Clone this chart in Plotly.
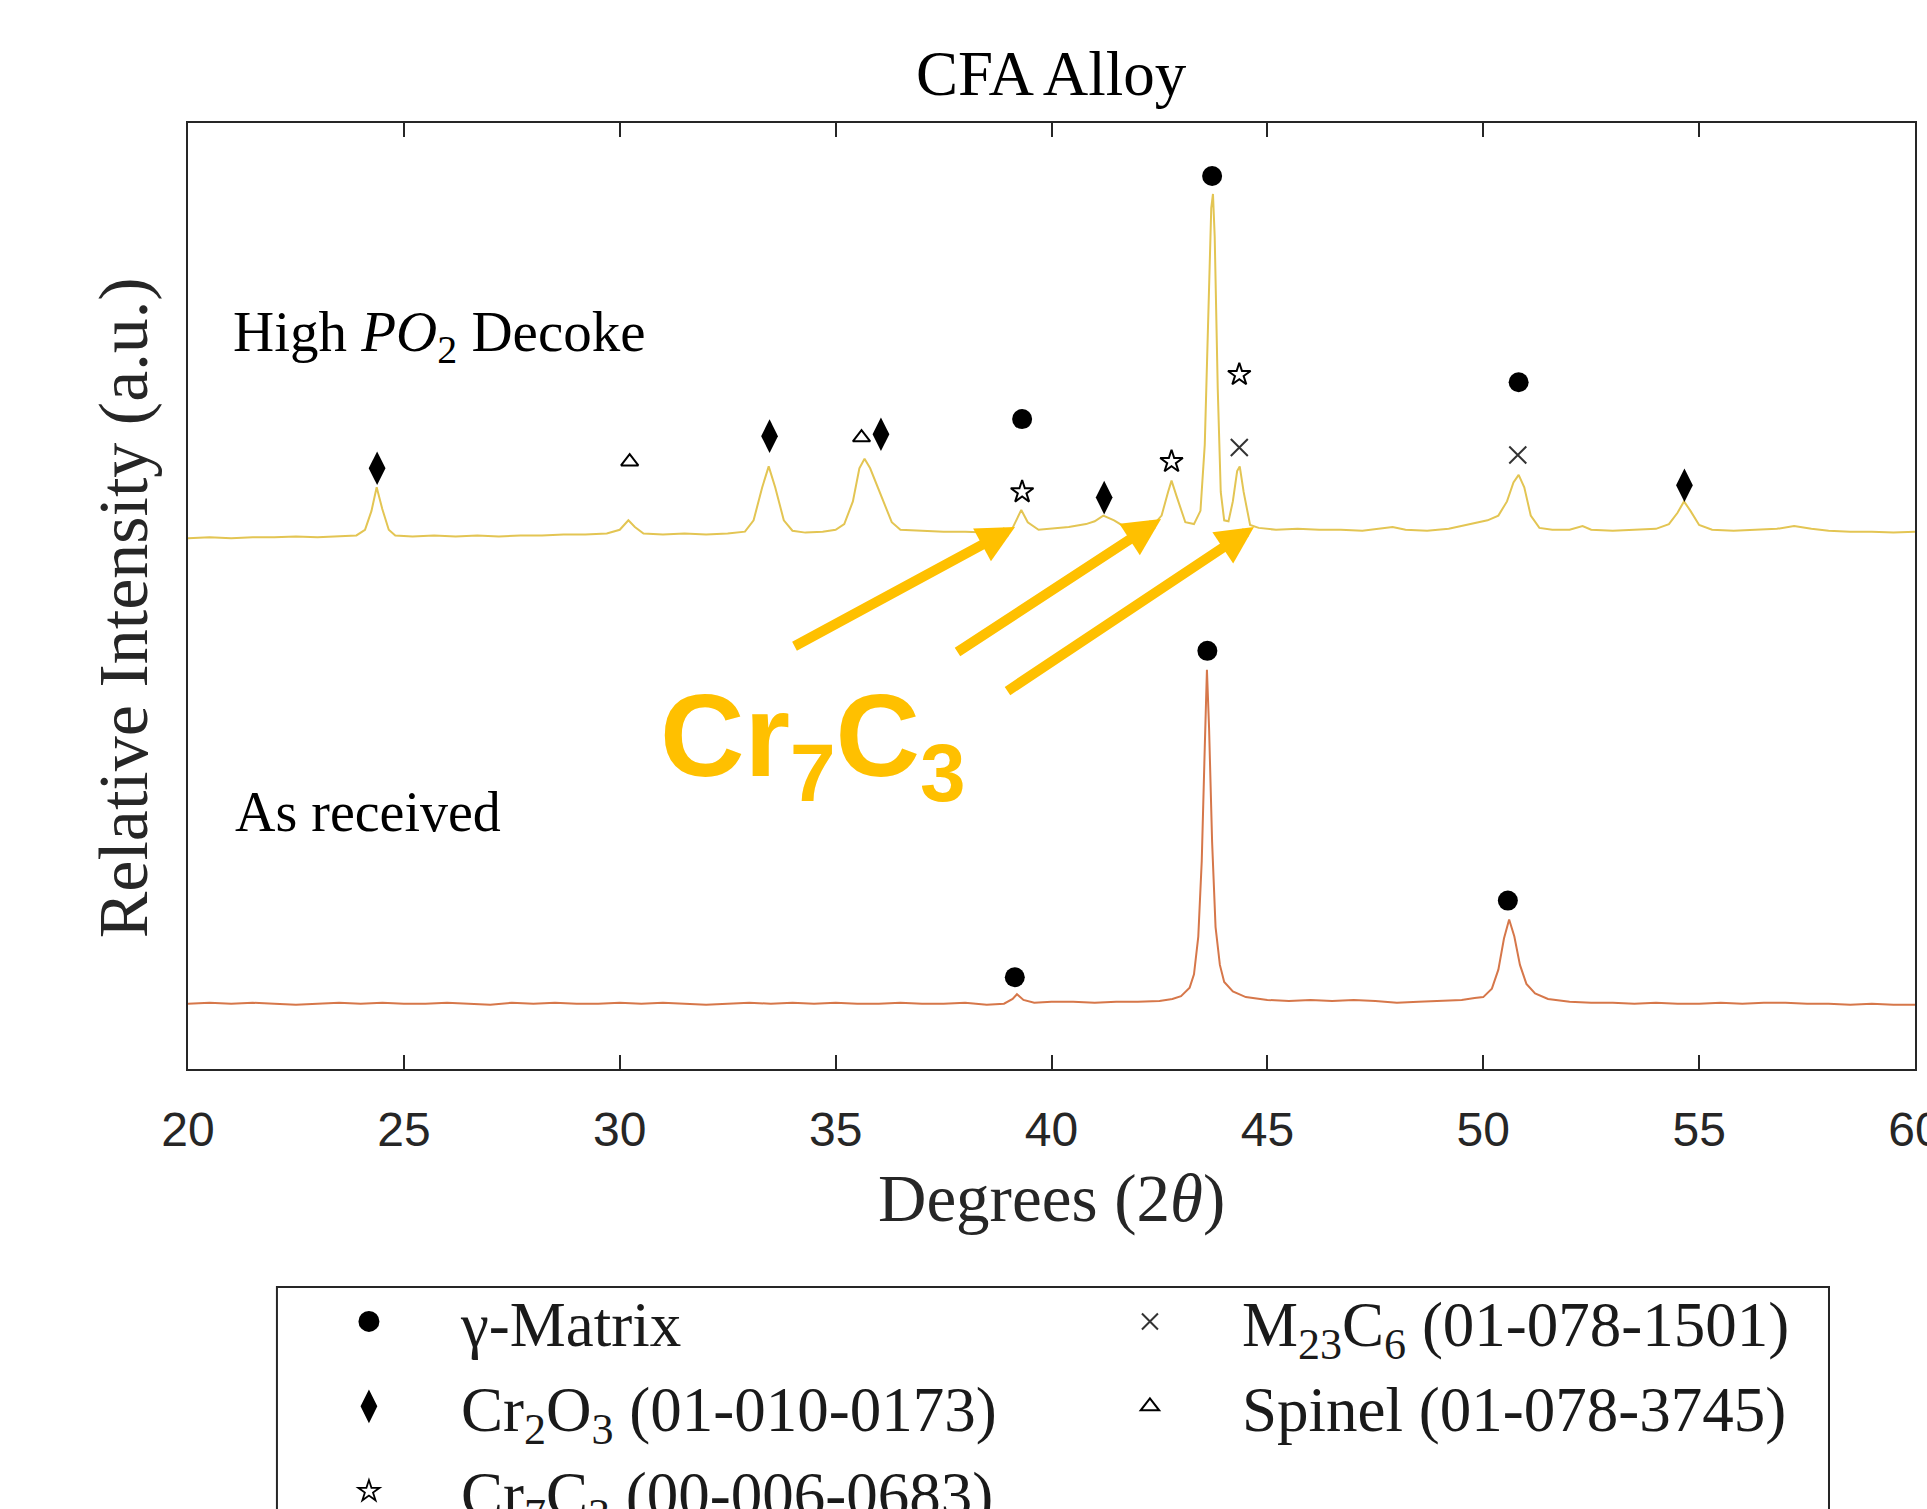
import plotly.graph_objects as go

# ---------------- data ----------------
# High PO2 decoke pattern: 2theta (deg) and plotted relative intensity (offset included)
decoke_2theta = [20.0, 20.5, 21.0, 21.5, 22.0, 22.5, 23.0, 23.5, 23.9, 24.1, 24.25, 24.37, 24.5, 24.65, 24.8,
                 25.2, 25.7, 26.2, 26.7, 27.2, 27.7, 28.2, 28.7, 29.2, 29.7, 30.0, 30.2, 30.35, 30.55,
                 31.0, 31.5, 32.0, 32.5, 32.9, 33.1, 33.3, 33.45, 33.6, 33.8, 34.0, 34.3, 34.7,
                 35.0, 35.2, 35.4, 35.55, 35.67, 35.8, 35.95, 36.1, 36.3, 36.5, 37.0, 37.5, 38.0, 38.5,
                 38.9, 39.1, 39.3, 39.45, 39.7, 40.0, 40.4, 40.8, 41.0, 41.2, 41.45, 41.7, 42.0, 42.3,
                 42.55, 42.7, 42.78, 42.9, 43.1, 43.3, 43.45, 43.55, 43.63, 43.7, 43.74, 43.78, 43.85,
                 43.92, 44.0, 44.1, 44.2, 44.3, 44.36, 44.45, 44.6, 44.8, 45.2, 45.7, 46.2, 46.7, 47.2,
                 47.6, 47.9, 48.2, 48.7, 49.2, 49.5, 49.8, 50.1, 50.35, 50.55, 50.7, 50.82, 50.95, 51.1,
                 51.3, 51.6, 52.0, 52.3, 52.5, 53.0, 53.5, 54.0, 54.3, 54.5, 54.65, 54.8, 55.0, 55.3,
                 55.8, 56.3, 56.8, 57.2, 57.6, 58.0, 58.5, 59.0, 59.5, 60.0]
decoke_int = [56.1, 56.2, 56.1, 56.2, 56.2, 56.3, 56.2, 56.3, 56.4, 57.0, 59.0, 61.5, 59.2, 57.0, 56.4,
              56.3, 56.4, 56.3, 56.4, 56.3, 56.4, 56.4, 56.5, 56.5, 56.6, 57.0, 58.0, 57.3, 56.6,
              56.5, 56.6, 56.5, 56.6, 56.8, 58.0, 61.5, 63.7, 61.5, 58.0, 56.9, 56.7, 56.8,
              57.0, 57.6, 60.0, 63.5, 64.5, 63.5, 61.8, 60.0, 57.8, 57.0, 56.9, 56.8, 56.8, 56.7,
              56.7, 57.2, 59.1, 57.8, 57.0, 57.1, 57.3, 57.6, 57.9, 58.5, 58.0, 57.3, 57.0, 57.2,
              58.5, 61.0, 62.2, 60.5, 57.8, 57.6, 59.0, 66.0, 80.0, 91.0, 92.5, 88.0, 72.0,
              61.0, 58.0, 57.9, 60.0, 63.2, 63.7, 61.0, 57.5, 57.2, 57.0, 57.1, 57.0, 57.0, 56.9,
              57.1, 57.3, 57.0, 56.9, 57.1, 57.4, 57.7, 58.0, 58.5, 60.0, 62.0, 62.8, 61.5, 58.5,
              57.2, 57.0, 57.0, 57.4, 57.0, 56.9, 57.0, 57.1, 57.6, 58.8, 60.0, 59.0, 57.5, 57.0,
              56.9, 57.0, 57.1, 57.4, 57.1, 56.9, 56.8, 56.8, 56.7, 56.8]

# As-received pattern
asrec_2theta = [20.0, 20.5, 21.0, 21.5, 22.0, 22.5, 23.0, 23.5, 24.0, 24.5, 25.0, 25.5, 26.0, 26.5, 27.0,
                27.5, 28.0, 28.5, 29.0, 29.5, 30.0, 30.5, 31.0, 31.5, 32.0, 32.5, 33.0, 33.5, 34.0, 34.5,
                35.0, 35.5, 36.0, 36.5, 37.0, 37.5, 38.0, 38.5, 38.9, 39.1, 39.2, 39.35, 39.6, 40.0,
                40.5, 41.0, 41.5, 42.0, 42.5, 42.8, 43.0, 43.2, 43.3, 43.4, 43.48, 43.55, 43.6, 43.65,
                43.72, 43.8, 43.9, 44.0, 44.2, 44.5, 45.0, 45.5, 46.0, 46.5, 47.0, 47.5, 48.0, 48.5,
                49.0, 49.5, 49.8, 50.0, 50.2, 50.35, 50.48, 50.6, 50.72, 50.85, 51.0, 51.2, 51.5, 52.0,
                52.5, 53.0, 53.5, 54.0, 54.5, 55.0, 55.5, 56.0, 56.5, 57.0, 57.5, 58.0, 58.5, 59.0,
                59.5, 60.0]
asrec_int = [6.9, 7.0, 6.9, 7.0, 6.9, 6.8, 6.9, 7.0, 6.9, 7.0, 6.9, 6.9, 7.0, 6.9, 6.8,
             7.0, 6.9, 7.0, 6.9, 6.9, 7.0, 6.9, 7.0, 6.9, 6.8, 6.9, 7.0, 6.9, 7.0, 6.9,
             7.0, 6.9, 6.9, 7.0, 6.9, 6.9, 7.0, 6.8, 6.9, 7.4, 7.9, 7.3, 7.0, 7.1,
             7.1, 7.0, 7.1, 7.1, 7.2, 7.4, 7.7, 8.6, 10.0, 14.0, 22.0, 34.0, 42.2, 36.0,
             24.0, 15.0, 11.0, 9.2, 8.2, 7.6, 7.3, 7.2, 7.3, 7.2, 7.3, 7.2, 7.0, 7.1,
             7.2, 7.3, 7.5, 7.6, 8.5, 10.5, 13.8, 15.8, 14.0, 11.0, 9.0, 8.0, 7.4, 7.1,
             7.0, 7.0, 6.9, 7.0, 6.9, 6.9, 7.0, 6.9, 7.0, 7.0, 6.9, 6.9, 6.8, 6.9,
             6.8, 6.8]

# Phase identification markers (2theta, label height)
gamma_x = [43.72, 39.32, 50.82, 43.61, 39.15, 50.57]
gamma_y = [94.4, 68.7, 72.6, 44.2, 9.7, 17.8]
m23c6_x = [44.35, 50.80]
m23c6_y = [65.7, 64.9]
cr2o3_x = [24.38, 33.47, 36.05, 41.22, 54.66]
cr2o3_y = [63.5, 66.9, 67.1, 60.4, 61.7]
spinel_x = [30.23, 35.60]
spinel_y = [64.2, 66.75]
cr7c3_x = [39.32, 42.78, 44.35]
cr7c3_y = [61.0, 64.2, 73.4]

x_ticks = [20, 25, 30, 35, 40, 45, 50, 55, 60]

SERIF = "Liberation Serif"
SANS = "Liberation Sans"
GOLD = "#FFC000"

phases = [
    # name, x, y, plot marker, legend marker
    ("γ-Matrix", gamma_x, gamma_y,
     dict(symbol="circle", size=20, color="black"),
     dict(symbol="circle", size=16, color="black", line=dict(width=5, color="black"))),
    ("M<sub>23</sub>C<sub>6</sub> (01-078-1501)", m23c6_x, m23c6_y,
     dict(symbol="x-thin-open", size=17, color="#333333", line=dict(width=2, color="#333333")),
     dict(symbol="x-thin-open", size=16, color="#333333", line=dict(width=2, color="#333333"))),
    ("Cr<sub>2</sub>O<sub>3</sub> (01-010-0173)", cr2o3_x, cr2o3_y,
     dict(symbol="diamond-tall", size=24, color="black"),
     dict(symbol="diamond-tall", size=16, color="black", line=dict(width=5, color="black"))),
    ("Spinel (01-078-3745)", spinel_x, spinel_y,
     dict(symbol="triangle-up-open", size=15, color="black", line=dict(width=2, color="black")),
     dict(symbol="triangle-up-open", size=16, color="black", line=dict(width=2, color="black"))),
    ("Cr<sub>7</sub>C<sub>3</sub> (00-006-0683)", cr7c3_x, cr7c3_y,
     dict(symbol="star-open", size=17, color="black", line=dict(width=2, color="black")),
     dict(symbol="star-open", size=16, color="black", line=dict(width=1.8, color="black"))),
]

fig = go.Figure()
fig.add_trace(go.Scatter(x=decoke_2theta, y=decoke_int, mode="lines",
                         line=dict(color="#E3C553", width=2), showlegend=False, hoverinfo="skip"))
fig.add_trace(go.Scatter(x=asrec_2theta, y=asrec_int, mode="lines",
                         line=dict(color="#D6774A", width=2), showlegend=False, hoverinfo="skip"))

for name, px, py, mk, lmk in phases:
    fig.add_trace(go.Scatter(x=px, y=py, mode="markers", name=name, marker=mk,
                             showlegend=False, legendgroup=name))
    # legend entry (same phase, slightly heavier symbol as in the original key)
    fig.add_trace(go.Scatter(x=[None], y=[None], mode="markers", name=name, marker=lmk,
                             showlegend=True, legendgroup=name))

annotations = [
    dict(text="CFA Alloy", xref="paper", yref="paper", x=0.5, y=1.0518, xanchor="center",
         yanchor="middle", showarrow=False, font=dict(family=SERIF, size=63, color="black")),
    dict(text="Degrees (2<i>θ</i>)", xref="paper", yref="paper", x=0.5, y=-0.1364,
         xanchor="center", yanchor="middle", showarrow=False,
         font=dict(family=SERIF, size=67, color="#262626")),
    dict(text="Relative Intensity (a.u.)", xref="paper", yref="paper", x=-0.0376, y=0.487,
         xanchor="center", yanchor="middle", textangle=-90, showarrow=False,
         font=dict(family=SERIF, size=70, color="#262626")),
    dict(text="High <i>PO</i><sub>2</sub> Decoke", xref="paper", yref="paper", x=0.0249, y=0.775,
         xanchor="left", yanchor="middle", showarrow=False,
         font=dict(family=SERIF, size=57, color="black")),
    dict(text="As received", xref="paper", yref="paper", x=0.026, y=0.2717,
         xanchor="left", yanchor="middle", showarrow=False,
         font=dict(family=SERIF, size=56, color="black")),
    dict(text="<b>Cr<sub>7</sub>C<sub>3</sub></b>", xref="paper", yref="paper", x=0.272, y=0.344,
         xanchor="left", yanchor="middle", showarrow=False,
         font=dict(family=SANS, size=117, color=GOLD)),
]
# Cr7C3 arrows: tip in data coordinates, tail offset in pixels
arrows = [(39.155, 57.29, -222, 120), (42.536, 58.14, -205, 134), (44.69, 57.29, -248, 165)]
for (tx, ty, axp, ayp) in arrows:
    annotations.append(dict(text="", x=tx, y=ty, xref="x", yref="y", ax=axp, ay=ayp,
                            showarrow=True, arrowhead=2, arrowsize=0.75, arrowwidth=10,
                            arrowcolor=GOLD))

# legend frame (runs past the bottom edge, as in the original figure)
shapes = [dict(type="rect", xref="paper", yref="paper", x0=0.0515, x1=0.9502,
               y0=-0.2304, y1=-0.62, line=dict(color="#262626", width=2), fillcolor="rgba(0,0,0,0)")]

fig.update_layout(
    width=1927, height=1509,
    margin=dict(l=188, r=12, t=123, b=440, autoexpand=False),
    paper_bgcolor="white", plot_bgcolor="white",
    annotations=annotations, shapes=shapes,
    xaxis=dict(range=[20, 60], tickvals=x_ticks, ticks="inside", ticklen=14, tickwidth=1.5,
               tickcolor="#262626", showline=True, linecolor="#262626", linewidth=1.5,
               mirror="ticks", showgrid=False, zeroline=False, ticklabelstandoff=18,
               ticklabeloverflow="allow",
               tickfont=dict(family=SANS, size=48, color="#262626")),
    yaxis=dict(range=[0, 100], showticklabels=False, ticks="", showline=True,
               linecolor="#262626", linewidth=1.5, mirror=True, showgrid=False, zeroline=False),
    legend=dict(orientation="h", x=0.0515, y=-0.2167, xanchor="left", yanchor="top",
                xref="paper", yref="paper",
                entrywidth=592, entrywidthmode="pixels", itemwidth=174,
                borderwidth=0, bgcolor="rgba(0,0,0,0)", itemclick=False, itemdoubleclick=False,
                font=dict(family=SERIF, size=63, color="#1a1a1a"), traceorder="normal"),
)

fig.write_html("out.html", post_script="document.body.style.margin='0px';",
               config={"displayModeBar": False})
